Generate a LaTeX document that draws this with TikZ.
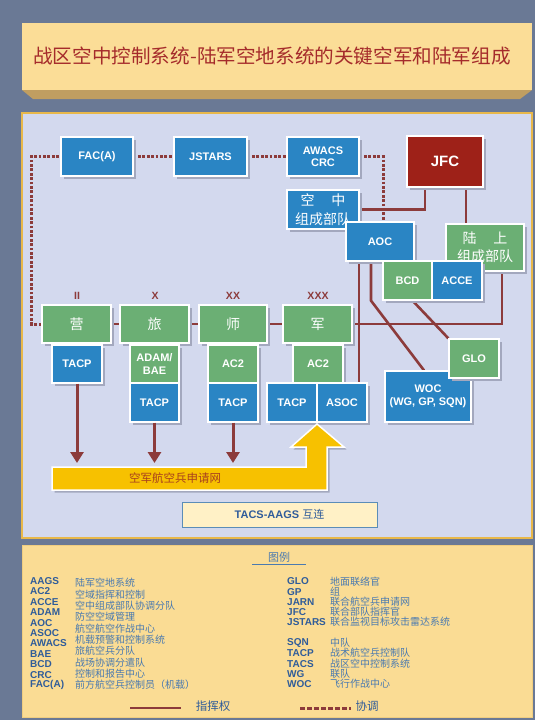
\documentclass[tikz,border=0pt]{standalone}
\usepackage{fontspec}
\setmainfont{Liberation Sans}
\newfontfamily\cjk{Noto Sans CJK SC}
\usetikzlibrary{arrows.meta,shadows}

\definecolor{slate}{HTML}{6A7995}
\definecolor{titlebg}{HTML}{FBDD97}
\definecolor{bevel}{HTML}{C09E61}
\definecolor{titletext}{HTML}{A52B2B}
\definecolor{panel}{HTML}{D3D9EE}
\definecolor{panelline}{HTML}{E8B84A}
\definecolor{keybg}{HTML}{FADC94}
\definecolor{boxblue}{HTML}{2A85C4}
\definecolor{boxgreen}{HTML}{6BAF74}
\definecolor{jfcred}{HTML}{9E2118}
\definecolor{linered}{HTML}{8C3B3B}
\definecolor{shade}{HTML}{A3A8BE}
\definecolor{jarnyellow}{HTML}{F7C100}
\definecolor{jarntext}{HTML}{A8401E}
\definecolor{tacsfill}{HTML}{FFF1C6}
\definecolor{tacsline}{HTML}{5B8DB8}
\definecolor{keyblue}{HTML}{2F5C9A}
\definecolor{keylight}{HTML}{4A7AB0}

\pgfdeclarelayer{back}
\pgfdeclarelayer{lines}
\pgfsetlayers{back,lines,main}

\tikzset{
  boxbase/.style={draw=white, line width=1.3pt, text=white, inner sep=0pt, align=center,
    font=\bfseries\fontsize{11}{12.5}\selectfont,
    drop shadow={shadow xshift=2.5pt, shadow yshift=-2.5pt, fill=shade, opacity=1}},
  bluebox/.style={boxbase, fill=boxblue},
  greenbox/.style={boxbase, fill=boxgreen},
  unitbox/.style={greenbox, font=\cjk\fontsize{14}{17}\selectfont},
  echelon/.style={text=linered, font=\bfseries\fontsize{10.5}{11}\selectfont},
  cmd/.style={draw=linered, line width=2.6pt},
  coord/.style={draw=linered, line width=3pt, dash pattern=on 2.8pt off 1.6pt},
  req/.style={draw=linered, line width=3pt, -{Triangle[length=11pt,width=13pt]}},
  abbr/.style={anchor=west, inner sep=0pt, text=keyblue, font=\bfseries\fontsize{10}{11}\selectfont},
  meaning/.style={anchor=west, inner sep=0pt, text=keylight, font=\cjk\fontsize{10}{11}\selectfont}
}

\begin{document}
\begin{tikzpicture}[x=1pt,y=-1pt]
  \useasboundingbox (0,0) rectangle (535,720);

  % panels
  \begin{pgfonlayer}{back}
    \fill[slate] (0,0) rectangle (535,720);
    \fill[bevel] (22,90) -- (532,90) -- (520,99) -- (33,99) -- cycle;
    \fill[titlebg] (22,23) rectangle (532,90);
    \filldraw[fill=panel, draw=panelline, line width=1.5pt] (22,113) rectangle (532,538);
    \filldraw[fill=keybg, draw=panelline!70, line width=0.8pt] (22,545) rectangle (532,717);
  \end{pgfonlayer}

  \node[font=\cjk\fontsize{19.6}{21}\selectfont, text=titletext] (title) at (272,56)
    {战区空中控制系统-陆军空地系统的关键空军和陆军组成};

  % air side
  \node[bluebox, minimum width=72pt, minimum height=39pt] (facA) at (97,156.5) {FAC(A)};
  \node[bluebox, minimum width=73pt, minimum height=39pt] (jstars) at (210.5,156.5) {JSTARS};
  \node[bluebox, minimum width=72pt, minimum height=39pt] (awacs) at (323,156.5) {AWACS\\CRC};
  \node[boxbase, fill=jfcred, minimum width=76pt, minimum height=51pt,
        font=\bfseries\fontsize{15}{17}\selectfont] (jfc) at (445,161.5) {JFC};
  \node[bluebox, minimum width=72pt, minimum height=39pt, font=\cjk\fontsize{14}{18.5}\selectfont]
    (aircomp) at (323,209.5) {空\hspace{1.2em}中\\组成部队};
  \node[bluebox, minimum width=68pt, minimum height=39pt] (aoc) at (380,241.5) {AOC};
  \node[greenbox, minimum width=78pt, minimum height=47pt, font=\cjk\fontsize{14}{18.5}\selectfont]
    (landcomp) at (485,247.5) {陆\hspace{1.2em}上\\组成部队};
  \node[greenbox, minimum width=49pt, minimum height=39pt] (bcd) at (407.5,280.5) {BCD};
  \node[bluebox, minimum width=50pt, minimum height=39pt] (acce) at (457,280.5) {ACCE};

  % army echelons
  \node[unitbox, minimum width=69pt, minimum height=38pt] (bn) at (76.5,324) {营};
  \node[unitbox, minimum width=69pt, minimum height=38pt] (bde) at (154.5,324) {旅};
  \node[unitbox, minimum width=68pt, minimum height=38pt] (div) at (233,324) {师};
  \node[unitbox, minimum width=69pt, minimum height=38pt] (corps) at (317.5,324) {军};
  \node[echelon] (bnlbl) at (77,296) {II};
  \node[echelon] (bdelbl) at (155,296) {X};
  \node[echelon] (divlbl) at (233,296) {XX};
  \node[echelon] (corpslbl) at (318,296) {XXX};

  \node[bluebox, minimum width=50pt, minimum height=38pt] (tacpbn) at (77,364) {TACP};
  \node[greenbox, minimum width=49pt, minimum height=38pt] (adam) at (154.5,364) {ADAM/\\BAE};
  \node[bluebox, minimum width=49pt, minimum height=39pt] (tacpbde) at (154.5,402.5) {TACP};
  \node[greenbox, minimum width=50pt, minimum height=38pt] (ac2div) at (233,364) {AC2};
  \node[bluebox, minimum width=50pt, minimum height=39pt] (tacpdiv) at (233,402.5) {TACP};
  \node[greenbox, minimum width=50pt, minimum height=38pt] (ac2corps) at (318,364) {AC2};
  \node[bluebox, minimum width=50pt, minimum height=39pt] (tacpcorps) at (292,402.5) {TACP};
  \node[bluebox, minimum width=50pt, minimum height=39pt] (asoc) at (342,402.5) {ASOC};

  \node[bluebox, minimum width=86pt, minimum height=51pt] (woc) at (428,396.5) {WOC\\(WG, GP, SQN)};
  \node[greenbox, minimum width=50pt, minimum height=39pt] (glo) at (474,358.5) {GLO};

  % connectors
  \begin{pgfonlayer}{lines}
    \draw[coord] (bn.west) -- ++(-10,0) |- (facA.west);
    \draw[coord] (facA.east) -- (jstars.west);
    \draw[coord] (jstars.east) -- (awacs.west);
    \draw[coord] (awacs.east) -| ([xshift=3pt]aoc.north);
    \draw[cmd] ([xshift=-20pt]jfc.south) |- (aircomp.east);
    \draw[cmd] ([xshift=21pt]jfc.south) -- ([xshift=21pt]jfc.south |- landcomp.north);
    \draw[cmd] ([xshift=17pt]landcomp.south) |- (corps.east);
    \draw[cmd] (bn.east) -- (bde.west);
    \draw[cmd] (bde.east) -- (div.west);
    \draw[cmd] (div.east) -- (corps.west);
    \draw[cmd] ([xshift=-21pt]aoc.south) -- ([xshift=-21pt]aoc.south |- asoc.north);
    \draw[cmd] ([xshift=-9pt]aoc.south) -- ++(0,39) -- ([xshift=-4pt]woc.north);
    \draw[cmd] ([xshift=5pt]bcd.south) -- (glo.north west);
  \end{pgfonlayer}

  % air support request net
  \coordinate (jarntop) at (0,463);
  \filldraw[fill=jarnyellow, draw=white, line width=1.5pt,
    drop shadow={shadow xshift=2.5pt, shadow yshift=-2.5pt, fill=shade, opacity=1}]
    (52,467) -- (306,467) -- (306,447) -- (291,447) -- (317,424) -- (344,447)
    -- (327,447) -- (327,490) -- (52,490) -- cycle;
  \node[text=jarntext, font=\cjk\fontsize{11.5}{13}\selectfont] (jarn) at (175,478) {空军航空兵申请网};
  \draw[req] (tacpbn.south) -- (tacpbn.south |- jarntop);
  \draw[req] (tacpbde.south) -- (tacpbde.south |- jarntop);
  \draw[req] (tacpdiv.south) -- (tacpdiv.south |- jarntop);

  \node[draw=tacsline, fill=tacsfill, line width=1pt, minimum width=195pt, minimum height=25pt,
        text=keyblue, font=\bfseries\fontsize{11}{12}\selectfont] (tacs) at (279.5,514.5)
    {TACS-AAGS {\cjk\mdseries 互连}};

  % legend
  \node[text=keylight, font=\cjk\fontsize{11}{12}\selectfont] (keytitle) at (279,557) {图例};
  \draw[keylight, line width=1pt] ([xshift=-27pt,yshift=-7pt]keytitle.center) -- ([xshift=27pt,yshift=-7pt]keytitle.center);

  \foreach \t [count=\i from 0] in {AAGS,AC2,ACCE,ADAM,AOC,ASOC,AWACS,BAE,BCD,CRC,FAC(A)}
    \node[abbr] (abl\i) at (30,581+10.4*\i) {\t};
  \foreach \m [count=\i from 0] in {陆军空地系统,空域指挥和控制,空中组成部队协调分队,防空空域管理,
      航空航空作战中心,机载预警和控制系统,旅航空兵分队,战场协调分遣队,控制和报告中心,前方航空兵控制员（机载）}
    \node[meaning] (mnl\i) at (75,583+11.33*\i) {\m};

  \foreach \t/\y in {GLO/581,GP/592,JARN/602,JFC/612,JSTARS/622,SQN/643,TACP/653,TACS/664,WG/674,WOC/684}
    \node[abbr] (abr\t) at (287,\y) {\t};
  \foreach \m/\y [count=\i] in {地面联络官/582,组/592,联合航空兵申请网/602,联合部队指挥官/612,
      联合监视目标攻击雷达系统/622,中队/643,战术航空兵控制队/653,战区空中控制系统/664,联队/674,飞行作战中心/684}
    \node[meaning] (mnr\i) at (330,\y) {\m};

  \coordinate (cmdA) at (130,708);
  \coordinate (cmdB) at (181,708);
  \draw[cmd] (cmdA) -- (cmdB);
  \node[text=keyblue, font=\cjk\fontsize{11.5}{13}\selectfont] (cmdlbl) at (213,706) {指挥权};
  \coordinate (crdA) at (300,708);
  \coordinate (crdB) at (351,708);
  \draw[coord, dash pattern=on 5pt off 2pt] (crdA) -- (crdB);
  \node[text=keyblue, font=\cjk\fontsize{11.5}{13}\selectfont] (crdlbl) at (367,706) {协调};
\end{tikzpicture}
\end{document}
